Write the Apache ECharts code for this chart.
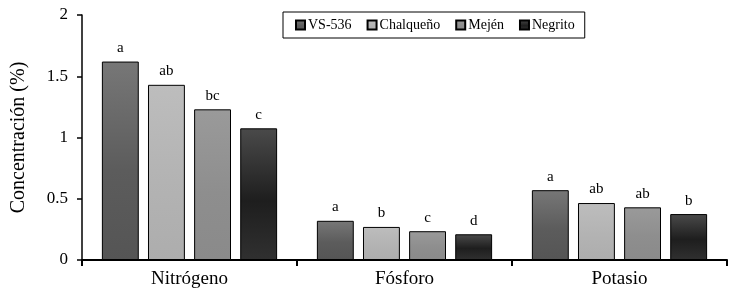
<!DOCTYPE html>
<html><head><meta charset="utf-8">
<script src="https://cdn.jsdelivr.net/npm/echarts@6/dist/echarts.min.js"></script>
<style>html,body{margin:0;padding:0;background:#fff}#c{width:744px;height:295px}</style>
</head><body><div id="c"></div>
<script>
const categories = ['Nitrógeno', 'Fósforo', 'Potasio'];
const seriesNames = ['VS-536', 'Chalqueño', 'Mején', 'Negrito'];
const vs536 = [1.62, 0.32, 0.57];
const chalqueno = [1.43, 0.27, 0.465];
const mejen = [1.23, 0.235, 0.43];
const negrito = [1.075, 0.21, 0.375];
const letVs536 = ['a', 'a', 'a'];
const letChalqueno = ['ab', 'b', 'ab'];
const letMejen = ['bc', 'c', 'ab'];
const letNegrito = ['c', 'd', 'b'];
const yTicks = [0, 0.5, 1, 1.5, 2];

const values = [vs536, chalqueno, mejen, negrito];
const letters = [letVs536, letChalqueno, letMejen, letNegrito];
const grads = [
  ['#777777', '#5c5c5c', '#555555'],
  ['#bdbdbd', '#b3b3b3', '#adadad'],
  ['#9a9a9a', '#8e8e8e', '#8a8a8a'],
  ['#4a4a4a', '#1e1e1e', '#303030']
];
const serif = '"Liberation Serif", "DejaVu Serif", serif';

const chart = echarts.init(document.getElementById('c'));
chart.setOption({
  animation: false,
  grid: { left: 82, right: 17, top: 15, bottom: 35 },
  legend: {
    data: seriesNames,
    top: 12, left: 283,
    borderColor: '#000', borderWidth: 1,
    padding: [6, 10, 6, 12],
    itemGap: 15,
    itemWidth: 9, itemHeight: 9,
    icon: 'rect',
    textStyle: { fontFamily: serif, fontSize: 14, color: '#000', padding: [0, 0, 0, -2] }
  },
  xAxis: {
    type: 'category',
    data: categories,
    axisLine: { lineStyle: { color: '#000', width: 2 } },
    axisTick: { show: true, length: 6, lineStyle: { color: '#000', width: 2 } },
    axisLabel: { fontFamily: serif, fontSize: 19, color: '#000', margin: 10 }
  },
  yAxis: {
    type: 'value',
    min: 0, max: 2, interval: 0.5,
    name: 'Concentración (%)',
    nameLocation: 'middle',
    nameGap: 53,
    nameTextStyle: { fontFamily: serif, fontSize: 20, color: '#000' },
    axisLine: { show: true, lineStyle: { color: '#000', width: 1.5 } },
    axisTick: { show: true, length: 5, lineStyle: { color: '#000', width: 1.5 } },
    splitLine: { show: false },
    axisLabel: {
      fontFamily: serif, fontSize: 17, color: '#000', margin: 14,
      formatter: v => yTicks.includes(v) ? String(v) : ''
    }
  },
  series: seriesNames.map((name, i) => ({
    name,
    type: 'bar',
    barGap: '25%',
    barCategoryGap: '18.5%',
    data: values[i].map((v, j) => ({ value: v, label: { formatter: letters[i][j] } })),
    itemStyle: {
      color: new echarts.graphic.LinearGradient(0, 0, 0, 1, [
        { offset: 0, color: grads[i][0] },
        { offset: 0.55, color: grads[i][1] },
        { offset: 1, color: grads[i][2] }
      ]),
      borderColor: '#000', borderWidth: 1
    },
    label: {
      show: true, position: 'top', distance: 6,
      fontFamily: serif, fontSize: 15, color: '#000'
    }
  }))
});
</script>
</body></html>
